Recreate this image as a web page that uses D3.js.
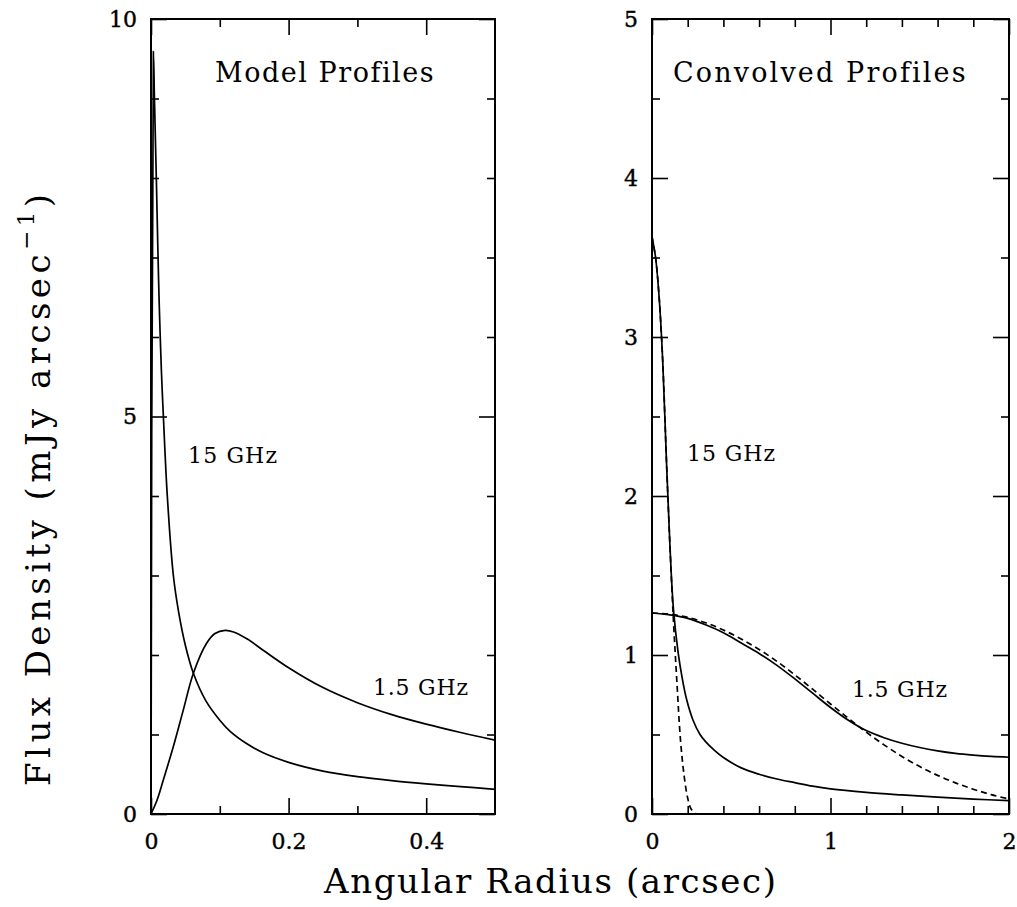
<!DOCTYPE html>
<html>
<head>
<meta charset="utf-8">
<script src="https://cdn.jsdelivr.net/npm/d3@7"></script>
<style>
  body { margin: 0; background: #fff; }
  text { font-family: "DejaVu Serif", serif; fill: #000; }
</style>
</head>
<body>
<svg id="chart" width="1017" height="907"></svg>
<script>
// Model profiles (left panel), [radius arcsec, mJy/arcsec]
const model15 = [[0,0],[0.0035,9.59],[0.005,9.0],[0.008,7.9],[0.01,7.1],[0.012,6.4],[0.015,5.6],[0.018,5.0],
  [0.0237,4.0],[0.0325,3.0],[0.04,2.55],[0.05,2.12],[0.0616,1.77],[0.08,1.42],[0.1,1.18],[0.115,1.04],
  [0.14,0.88],[0.163,0.77],[0.2,0.65],[0.25,0.54],[0.3,0.47],[0.35,0.42],[0.4,0.38],[0.45,0.345],[0.5,0.31]];
const model1_5 = [[0,0],[0.009,0.18],[0.018,0.43],[0.0325,0.85],[0.047,1.31],[0.0616,1.77],[0.081,2.15],
  [0.093,2.27],[0.1077,2.31],[0.12,2.29],[0.14,2.2],[0.163,2.06],[0.2,1.84],[0.25,1.59],[0.3,1.4],
  [0.35,1.25],[0.4,1.13],[0.45,1.025],[0.5,0.93]];

// Convolved profiles (right panel)
const conv15 = [[0,3.63],[0.02,3.5],[0.04,3.25],[0.06,2.85],[0.08,2.25],[0.1,1.7],[0.12,1.29],[0.147,1.01],
  [0.17,0.85],[0.194,0.72],[0.23,0.59],[0.269,0.5],[0.3,0.455],[0.35,0.4],[0.4,0.355],[0.5,0.29],
  [0.6,0.25],[0.7,0.22],[0.8,0.197],[0.9,0.175],[1.0,0.158],[1.2,0.136],[1.4,0.12],[1.6,0.106],
  [1.8,0.094],[2.0,0.084]];
const beam15 = [[0,3.63],[0.02,3.5],[0.04,3.25],[0.06,2.85],[0.08,2.25],[0.1,1.7],[0.12,1.22],[0.14,0.82],
  [0.16,0.46],[0.18,0.24],[0.2,0.1],[0.22,0.03],[0.25,0]];
const conv1_5 = [[0,1.264],[0.1,1.252],[0.2,1.23],[0.3,1.19],[0.4,1.14],[0.5,1.075],[0.6,1.01],[0.7,0.935],
  [0.8,0.85],[0.9,0.76],[1.0,0.67],[1.1,0.59],[1.2,0.525],[1.3,0.48],[1.4,0.445],[1.5,0.418],[1.6,0.397],
  [1.7,0.381],[1.8,0.37],[1.9,0.362],[2.0,0.357]];
const gauss1_5 = [[0,1.264],[0.1,1.257],[0.2,1.237],[0.3,1.203],[0.4,1.157],[0.5,1.1],[0.6,1.035],[0.7,0.96],
  [0.8,0.875],[0.9,0.785],[1.0,0.692],[1.1,0.602],[1.2,0.515],[1.3,0.435],[1.4,0.362],[1.5,0.298],
  [1.6,0.243],[1.7,0.196],[1.8,0.156],[1.9,0.122],[2.0,0.094]];

// Ticks
const leftXMajor = [0, 0.2, 0.4];
const leftXMinor = [0.1, 0.3];
const leftYMajor = [0, 5, 10];
const leftYMinor = [1, 2, 3, 4, 6, 7, 8, 9];
const rightXMajor = [0, 1, 2];
const rightXMinor = [0.2, 0.4, 0.6, 0.8, 1.2, 1.4, 1.6, 1.8];
const rightYMajor = [0, 1, 2, 3, 4, 5];
const rightYMinor = [0.5, 1.5, 2.5, 3.5, 4.5];

const svg = d3.select("#chart");

// set letter spacing so a text element spans a given width
const fitWidth = (sel, target) => {
  const node = sel.node();
  const n = node.textContent.length;
  const w = node.getComputedTextLength();
  sel.attr("letter-spacing", (target - w) / (n - 1));
};

const drawPanel = p => {
  const x = d3.scaleLinear().domain(p.xDomain).range([p.left, p.right]);
  const y = d3.scaleLinear().domain(p.yDomain).range([p.bottom, p.top]);
  const g = svg.append("g");

  const tickAxis = (axis, pos, values, size, labels) => {
    const a = g.append("g")
      .attr("transform", pos)
      .call(axis.tickValues(values).tickSize(-size).tickPadding(labels ? labels.pad : 0)
        .tickFormat(labels ? labels.fmt : () => ""));
    a.attr("font-size", 22).attr("font-family", "'DejaVu Serif', serif");
    a.select(".domain").remove();
    a.selectAll(".tick line").attr("stroke", "#000").attr("stroke-width", 1.6);
    a.selectAll(".tick text")
      .style("font-size", "22px")
      .attr("fill", "#000")
      .attr("stroke", "#000")
      .attr("stroke-width", 0.4);
    return a;
  };

  // bottom / top
  tickAxis(d3.axisBottom(x), `translate(0,${p.bottom})`, p.xMajor, 16, { pad: 19, fmt: p.xFmt });
  tickAxis(d3.axisBottom(x), `translate(0,${p.bottom})`, p.xMinor, 8);
  tickAxis(d3.axisTop(x), `translate(0,${p.top})`, p.xMajor, 16);
  tickAxis(d3.axisTop(x), `translate(0,${p.top})`, p.xMinor, 8);
  // left / right
  tickAxis(d3.axisLeft(y), `translate(${p.left},0)`, p.yMajor, 16, { pad: 14, fmt: d3.format("d") });
  tickAxis(d3.axisLeft(y), `translate(${p.left},0)`, p.yMinor, 8);
  tickAxis(d3.axisRight(y), `translate(${p.right},0)`, p.yMajor, 16);
  tickAxis(d3.axisRight(y), `translate(${p.right},0)`, p.yMinor, 8);

  g.append("rect")
    .attr("x", p.left).attr("y", p.top)
    .attr("width", p.right - p.left).attr("height", p.bottom - p.top)
    .attr("fill", "none").attr("stroke", "#000").attr("stroke-width", 2);

  const line = d3.line().x(d => x(d[0])).y(d => y(d[1])).curve(d3.curveCatmullRom.alpha(0.5));
  p.series.forEach(s => {
    g.append("path")
      .datum(s.data)
      .attr("d", line)
      .attr("fill", "none")
      .attr("stroke", "#000")
      .attr("stroke-width", 1.7)
      .attr("stroke-dasharray", s.dashed ? "6,4" : null);
  });

  const title = g.append("text")
    .attr("x", p.title.x).attr("y", 82)
    .style("font-size", "27px")
    .text(p.title.text);
  fitWidth(title, p.title.w);

  p.labels.forEach(l => {
    const t = g.append("text")
      .attr("x", l.x).attr("y", l.y)
      .style("font-size", "22px")
      .text(l.text);
    fitWidth(t, l.w);
  });
};

drawPanel({
  left: 151, right: 495, top: 19, bottom: 814,
  xDomain: [0, 0.5], yDomain: [0, 10],
  xMajor: leftXMajor, xMinor: leftXMinor, yMajor: leftYMajor, yMinor: leftYMinor,
  xFmt: d => d === 0 ? "0" : d3.format(".1f")(d),
  series: [{ data: model15 }, { data: model1_5 }],
  title: { text: "Model Profiles", x: 215, w: 218 },
  labels: [
    { text: "15 GHz", x: 188, y: 463, w: 89 },
    { text: "1.5 GHz", x: 373, y: 695, w: 95 }
  ]
});

drawPanel({
  left: 652, right: 1009, top: 19, bottom: 814,
  xDomain: [0, 2], yDomain: [0, 5],
  xMajor: rightXMajor, xMinor: rightXMinor, yMajor: rightYMajor, yMinor: rightYMinor,
  xFmt: d3.format("d"),
  series: [{ data: conv15 }, { data: beam15, dashed: true }, { data: conv1_5 }, { data: gauss1_5, dashed: true }],
  title: { text: "Convolved Profiles", x: 673, w: 292 },
  labels: [
    { text: "15 GHz", x: 687, y: 461, w: 88 },
    { text: "1.5 GHz", x: 852, y: 697, w: 95 }
  ]
});

// Axis titles
const xTitle = svg.append("text")
  .attr("x", 324).attr("y", 893)
  .style("font-size", "34px")
  .text("Angular Radius (arcsec)");
fitWidth(xTitle, 452);

const yTitle = svg.append("text")
  .attr("transform", "translate(50,786) rotate(-90)")
  .style("font-size", "34px");
yTitle.append("tspan").text("Flux Density (mJy arcsec");
yTitle.append("tspan").attr("dy", -16).style("font-size", "23px").text("−1");
yTitle.append("tspan").attr("dy", 16).text(")");
fitWidth(yTitle, 592);
</script>
</body>
</html>
